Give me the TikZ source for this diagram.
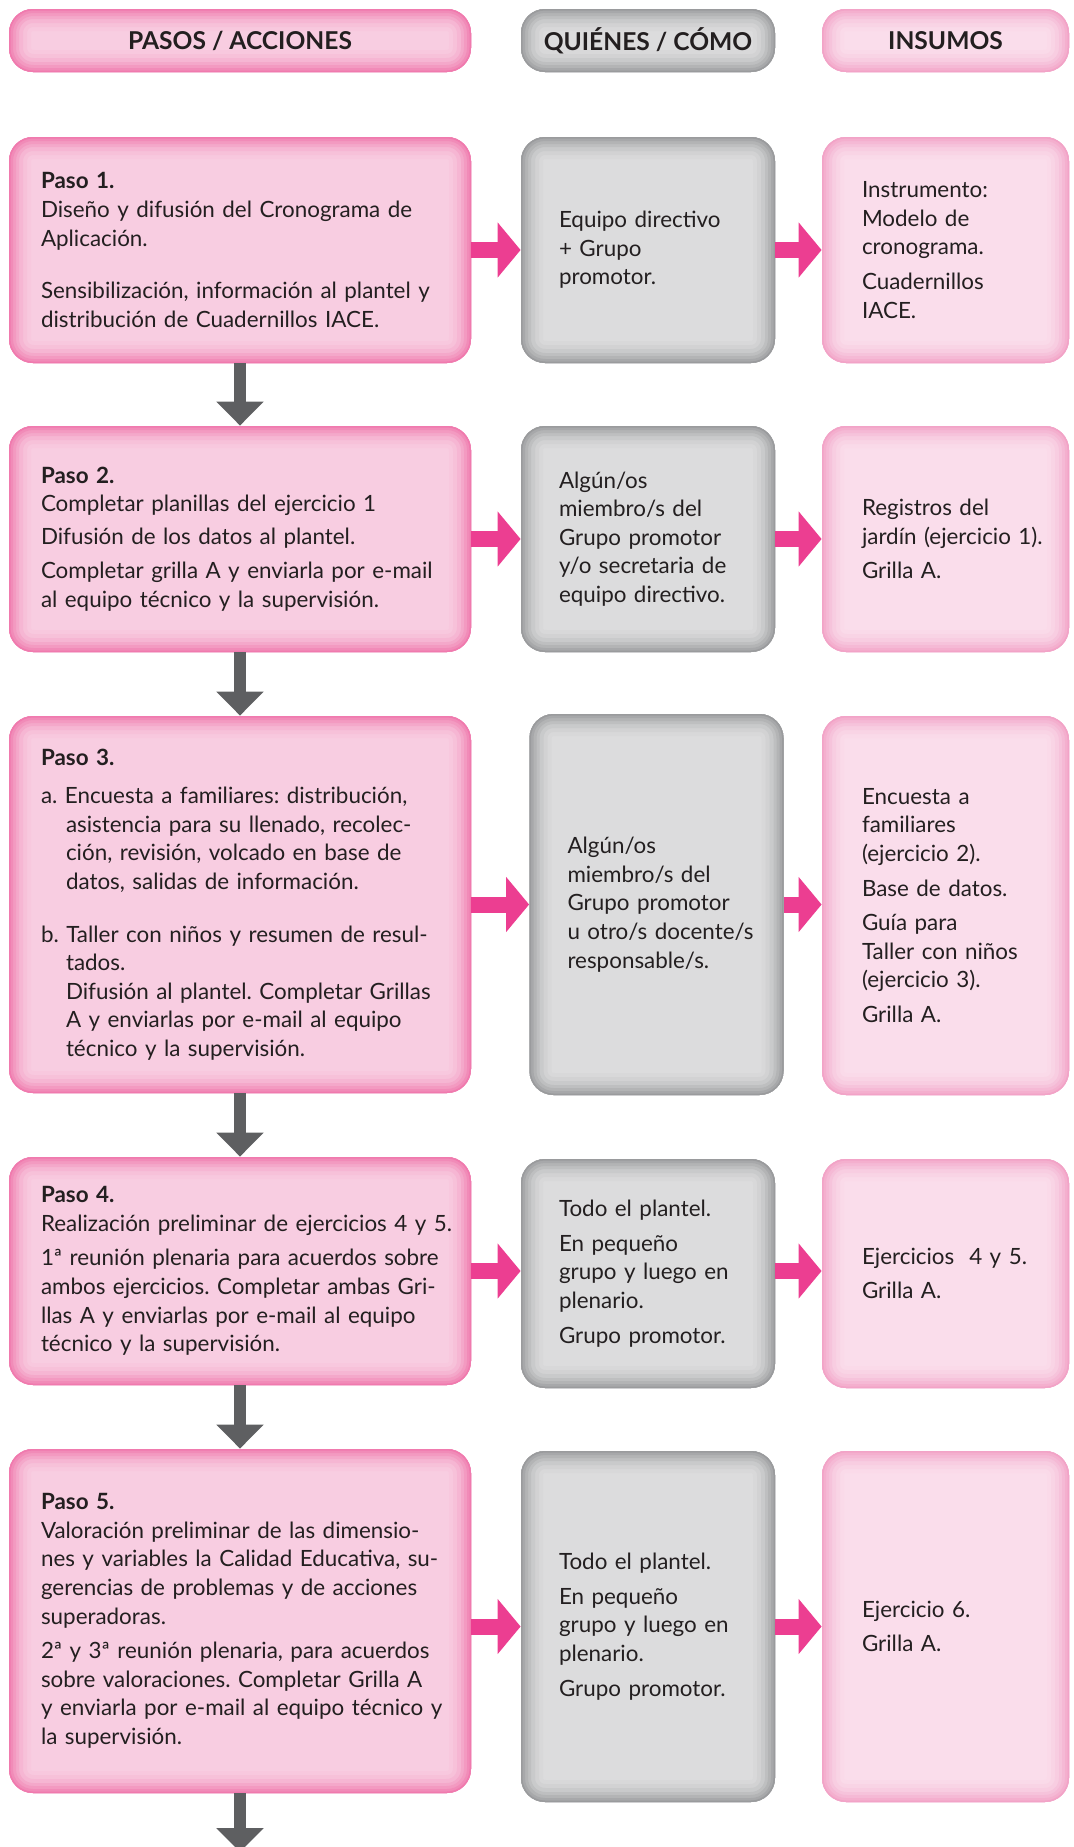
\documentclass[tikz,border=0pt]{standalone}
\usepackage{fontspec}
\setmainfont{Lato}
\usetikzlibrary{arrows.meta}

\definecolor{rosafondo}{HTML}{F8CDE1}
\definecolor{rosaborde}{HTML}{F07AAE}
\definecolor{grisfondo}{HTML}{DCDCDD}
\definecolor{grisborde}{HTML}{9A9B9D}
\definecolor{clarofondo}{HTML}{FADDEB}
\definecolor{claroborde}{HTML}{F2A3C7}
\definecolor{rosaflecha}{HTML}{EC3E91}
\definecolor{grisflecha}{HTML}{5E5F61}
\definecolor{tinta}{HTML}{231F20}

\newcommand{\cuerpo}{\fontsize{11.2}{14.3}\selectfont\frenchspacing}
\newcommand{\sangria}{\hspace*{12.5pt}}

\tikzset{
  brillo/.style 2 args={fill=#2, rounded corners=12pt, path picture={
      \foreach \w/\p in {22/6,18/15,14/28,10/45,7/62,4/80,1.5/100}
        \draw[line width=\w pt, #1!\p!#2, rounded corners=12pt]
          (path picture bounding box.south west) rectangle (path picture bounding box.north east);}},
  caja/.style={align=left, inner ysep=0pt, text=tinta, font=\cuerpo},
  pasobox/.style={caja, brillo={rosaborde}{rosafondo}, minimum width=231pt,
      text width=221pt, inner xsep=5pt, execute at begin node={\leftskip=11pt}},
  quienbox/.style={caja, brillo={grisborde}{grisfondo}, minimum width=127pt,
      text width=117pt, inner xsep=5pt, execute at begin node={\leftskip=14pt}},
  insumobox/.style={caja, brillo={claroborde}{clarofondo}, minimum width=123.5pt,
      text width=113.5pt, inner xsep=5pt, execute at begin node={\leftskip=15pt}},
  cabecera/.style={inner sep=0pt, minimum height=31.5pt, text=tinta,
      font=\fontsize{12.3}{14}\selectfont\bfseries},
  flecha/.style={draw=rosaflecha, line width=8pt, -{Triangle[width=27pt,length=11.5pt]}},
  bajada/.style={draw=grisflecha, line width=6pt, -{Triangle[width=23pt,length=12pt]}},
}

\begin{document}
\begin{tikzpicture}[x=0.5pt,y=-0.5pt]
  \useasboundingbox (0,0) rectangle (1073,1847);

  % encabezados
  \node[cabecera, brillo={rosaborde}{rosafondo}, minimum width=231pt] (cabpasos) at (240,40.5) {PASOS / ACCIONES};
  \node[cabecera, brillo={grisborde}{grisfondo}, minimum width=127pt] (cabquien) at (648,40.5) {QUIÉNES / CÓMO};
  \node[cabecera, brillo={claroborde}{clarofondo}, minimum width=123.5pt] (cabinsumo) at (945.5,40.5) {INSUMOS};

  % paso 1
  \node[pasobox, minimum height=113pt] (paso1) at (240,250) {\textbf{Paso 1.}\\
    Diseño y difusión del Cronograma de\\
    Aplicación.\\[12pt]
    Sensibilización, información al plantel y\\
    distribución de Cuadernillos IACE.};
  \node[quienbox, minimum height=113pt] (quien1) at (648,250) {Equipo directivo\\ + Grupo\\ promotor.};
  \node[insumobox, minimum height=113pt] (insumo1) at (945.5,250) {Instrumento:\\ Modelo de\\ cronograma.\\[3pt] Cuadernillos\\ IACE.};

  % paso 2
  \node[pasobox, minimum height=113pt] (paso2) at (240,539) {\textbf{Paso 2.}\\
    Completar planillas del ejercicio 1\\[2pt]
    Difusión de los datos al plantel.\\[3pt]
    Completar grilla A y enviarla por e-mail\\
    al equipo técnico y la supervisión.};
  \node[quienbox, minimum height=113pt] (quien2) at (648,539) {Algún/os\\ miembro/s del\\ Grupo promotor\\ y/o secretaria de\\ equipo directivo.};
  \node[insumobox, minimum height=113pt] (insumo2) at (945.5,539) {Registros del\\ jardín (ejercicio 1).\\[3pt] Grilla A.};

  % paso 3
  \node[pasobox, minimum height=188.5pt] (paso3) at (240,904.5) {\textbf{Paso 3.}\\[5pt]
    a. Encuesta a familiares: distribución,\\
    \sangria asistencia para su llenado, recolec-\\
    \sangria ción, revisión, volcado en base de\\
    \sangria datos, salidas de información.\\[12pt]
    b. Taller con niños y resumen de resul-\\
    \sangria tados.\\
    \sangria Difusión al plantel. Completar Grillas\\
    \sangria A y enviarlas por e-mail al equipo\\
    \sangria técnico y la supervisión.};
  \node[quienbox, minimum height=190.5pt, minimum width=126.5pt] (quien3) at (656.5,904.5) {Algún/os\\ miembro/s del\\ Grupo promotor\\ u otro/s docente/s\\ responsable/s.};
  \node[insumobox, minimum height=189.5pt] (insumo3) at (945.5,905.5) {Encuesta a\\ familiares\\ (ejercicio 2).\\[3pt] Base de datos.\\[3pt] Guía para\\ Taller con niños\\ (ejercicio 3).\\[3pt] Grilla A.};

  % paso 4
  \node[pasobox, minimum height=114pt] (paso4) at (240,1271) {\textbf{Paso 4.}\\
    Realización preliminar de ejercicios 4 y 5.\\[3pt]
    1ª reunión plenaria para acuerdos sobre\\
    ambos ejercicios. Completar ambas Gri-\\
    llas A y enviarlas por e-mail al equipo\\
    técnico y la supervisión.};
  \node[quienbox, minimum height=114.5pt] (quien4) at (648,1273.5) {Todo el plantel.\\[3pt] En pequeño\\ grupo y luego en\\ plenario.\\[3pt] Grupo promotor.};
  \node[insumobox, minimum height=114.5pt] (insumo4) at (945.5,1273.5) {Ejercicios~~4 y 5.\\[3pt] Grilla A.};

  % paso 5
  \node[pasobox, minimum height=172pt] (paso5) at (240,1621) {\textbf{Paso 5.}\\
    Valoración preliminar de las dimensio-\\
    nes y variables la Calidad Educativa, su-\\
    gerencias de problemas y de acciones\\
    superadoras.\\[3pt]
    2ª y 3ª reunión plenaria, para acuerdos\\
    sobre valoraciones. Completar Grilla A\\
    y enviarla por e-mail al equipo técnico y\\
    la supervisión.};
  \node[quienbox, minimum height=175.5pt] (quien5) at (648,1626.5) {Todo el plantel.\\[3pt] En pequeño\\ grupo y luego en\\ plenario.\\[3pt] Grupo promotor.};
  \node[insumobox, minimum height=175.5pt] (insumo5) at (945.5,1626.5) {Ejercicio 6.\\[3pt] Grilla A.};

  \coordinate (fin) at (240,1852);

  % flechas
  \draw[flecha] (paso1) -- (quien1);
  \draw[flecha] (quien1) -- (insumo1);
  \draw[flecha] (paso2) -- (quien2);
  \draw[flecha] (quien2) -- (insumo2);
  \draw[flecha] (paso3) -- (quien3);
  \draw[flecha] (quien3.east |- paso3) -- (insumo3.west |- paso3);
  \draw[flecha] (paso4.east) -- (paso4.east -| quien4.west);
  \draw[flecha] (quien4.east |- paso4) -- (insumo4.west |- paso4);
  \draw[flecha] (quien5.west -| paso5.east) -- (quien5.west);
  \draw[flecha] (quien5) -- (insumo5);

  \draw[bajada] (paso1) -- (paso2);
  \draw[bajada] (paso2) -- (paso3);
  \draw[bajada] (paso3) -- (paso4);
  \draw[bajada] (paso4) -- (paso5);
  \draw[bajada] (paso5) -- (fin);
\end{tikzpicture}
\end{document}
